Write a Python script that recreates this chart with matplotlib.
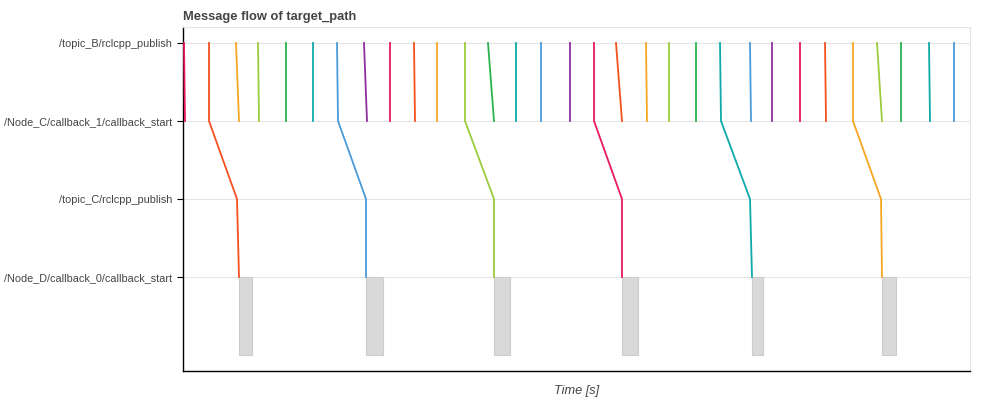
import matplotlib
matplotlib.use('Agg')
import matplotlib.pyplot as plt
from matplotlib.patches import Rectangle

plt.rcParams['font.family'] = ['Liberation Sans', 'DejaVu Sans']

# levels of the path, top to bottom
levels = ['/topic_B/rclcpp_publish', '/Node_C/callback_1/callback_start',
          '/topic_C/rclcpp_publish', '/Node_D/callback_0/callback_start']

# times [s]
topic_b_pub = [0.001, 0.026, 0.053, 0.075, 0.103, 0.130, 0.154, 0.181, 0.207, 0.231,
               0.254, 0.282, 0.305, 0.333, 0.358, 0.387, 0.411, 0.433, 0.463, 0.486,
               0.513, 0.537, 0.567, 0.589, 0.617, 0.642, 0.670, 0.694, 0.718, 0.746, 0.771]
node_c_start = [0.002, 0.026, 0.056, 0.076, 0.103, 0.130, 0.155, 0.184, 0.207, 0.232,
                 0.254, 0.282, 0.311, 0.333, 0.358, 0.387, 0.411, 0.439, 0.464, 0.486,
                 0.513, 0.538, 0.568, 0.589, 0.617, 0.643, 0.670, 0.699, 0.718, 0.747, 0.771]
# messages that go on through topic_C to Node_D
fwd_idx = [1, 6, 11, 16, 21, 26]
topic_c_pub = [0.054, 0.183, 0.311, 0.439, 0.567, 0.698]
node_d_start = [0.056, 0.183, 0.311, 0.439, 0.569, 0.699]
node_d_dur = [0.013, 0.017, 0.016, 0.016, 0.011, 0.014]

colors = ['#e8195f', '#f4511e', '#f5a623', '#9ccc3c', '#2bb34f', '#10a9a9', '#4a9bd9', '#8e2f9e']

fig = plt.figure(figsize=(10, 4), dpi=100)
ax = fig.add_axes([0.183, 0.0725, 0.787, 0.86])

for i, (t0, t1) in enumerate(zip(topic_b_pub, node_c_start)):
    c = colors[i % len(colors)]
    xs, ys = [t0, t1], [0, -1]
    if i in fwd_idx:
        k = fwd_idx.index(i)
        xs += [topic_c_pub[k], node_d_start[k]]
        ys += [-2, -3]
    ax.plot(xs, ys, color=c, lw=1.3, zorder=3)

for t, d in zip(node_d_start, node_d_dur):
    ax.add_patch(Rectangle((t, -4), d, 1, facecolor='#d9d9d9', edgecolor='#cccccc', lw=0.8, zorder=2))

ax.set_xlim(0, 0.787)
ax.set_ylim(-4.205, 0.205)
ax.set_yticks([0, -1, -2, -3])
ax.set_yticklabels(levels, fontsize=7.8, color='#444444')
ax.set_xticks([])
ax.tick_params(axis='y', length=4.3, width=0.8, color='black', pad=3.6)
ax.grid(axis='y', color='#e5e5e5', lw=0.8, zorder=0)
ax.set_axisbelow(True)

for s in ['top', 'right']:
    ax.spines[s].set_color('#e5e5e5')
for s in ['left', 'bottom']:
    ax.spines[s].set_color('black')
    ax.spines[s].set_linewidth(1)

ax.set_title('Message flow of target_path', loc='left', fontsize=9.3, fontweight='bold',
             color='#444444', pad=5)
ax.set_xlabel('Time [s]', fontsize=9.2, style='italic', color='#444444', labelpad=10)

fig.savefig('out.png', dpi=100)
